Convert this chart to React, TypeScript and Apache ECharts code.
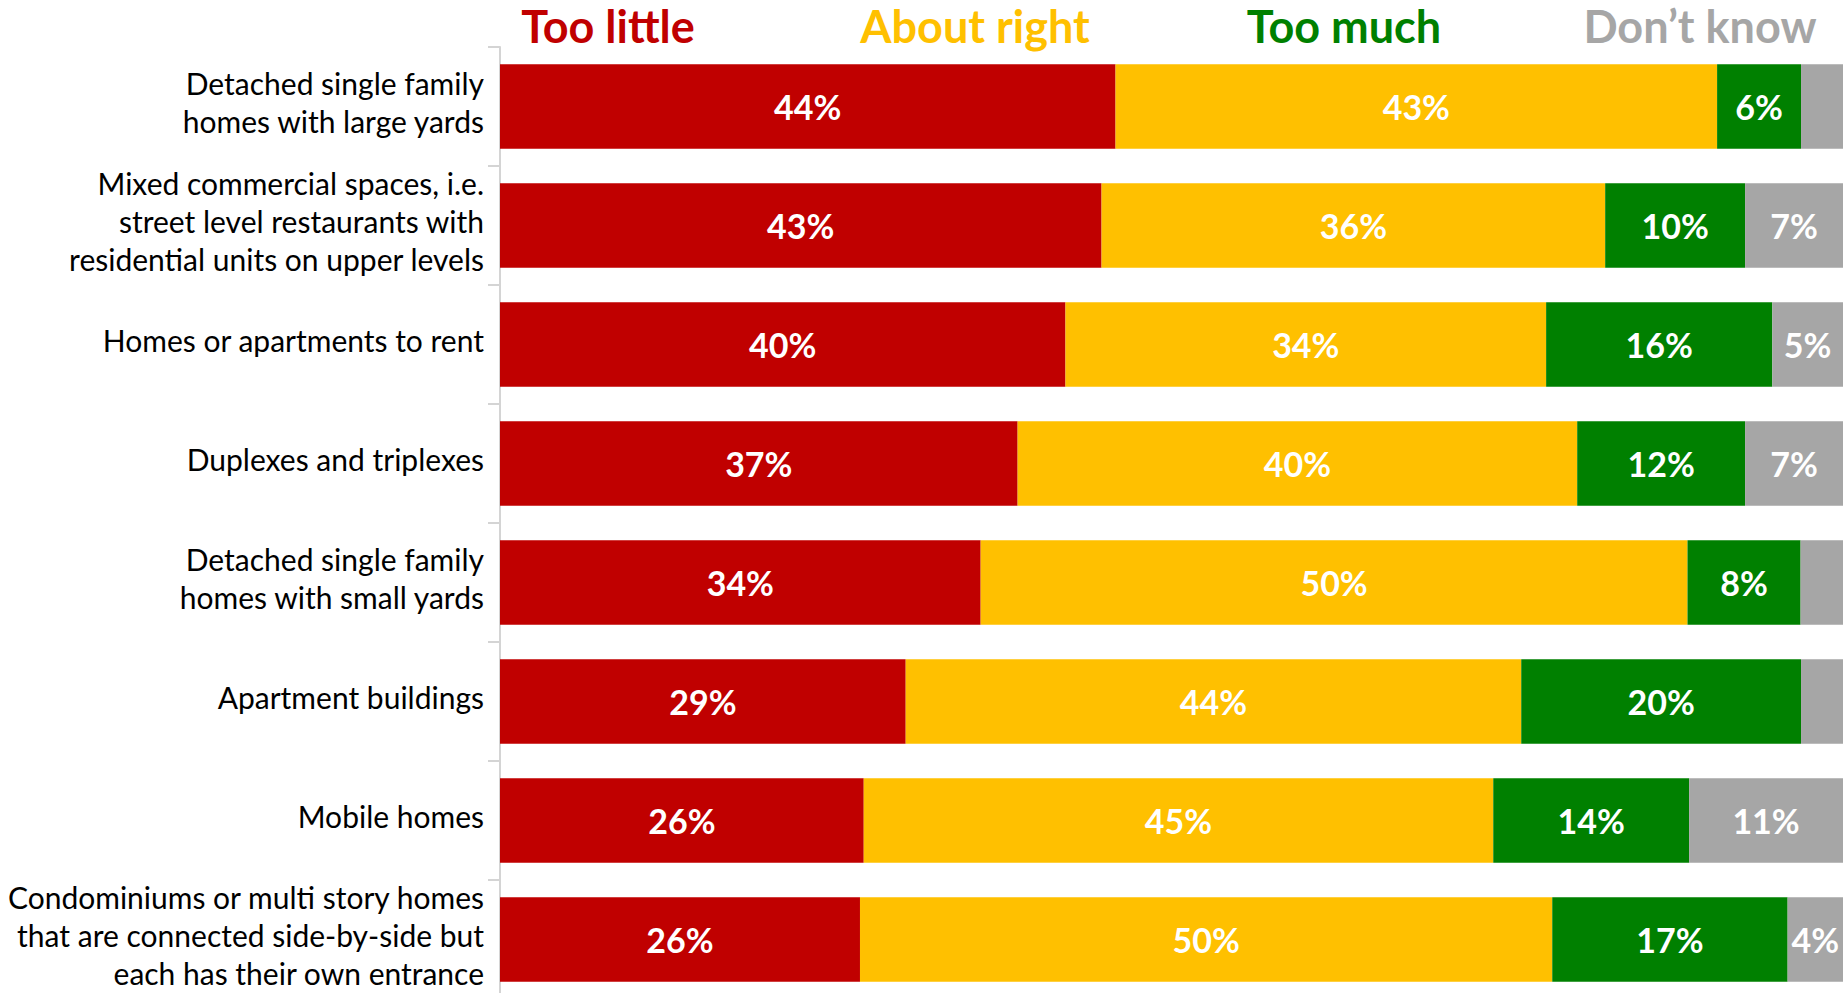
import React, { useEffect, useRef } from "react";
import * as echarts from "echarts";

const categories = [
  "Detached single family\nhomes with large yards",
  "Mixed commercial spaces, i.e.\nstreet level restaurants with\nresidential units on upper levels",
  "Homes or apartments to rent",
  "Duplexes and triplexes",
  "Detached single family\nhomes with small yards",
  "Apartment buildings",
  "Mobile homes",
  "Condominiums or multi story homes\nthat are connected side-by-side but\neach has their own entrance",
];
const seriesNames = ["Too little", "About right", "Too much", "Don’t know"];
const seriesColors = ["#C00000", "#FFC000", "#008000", "#A6A6A6"];
const tooLittle = [44, 43, 40, 37, 34, 29, 26, 26];
const aboutRight = [43, 36, 34, 40, 50, 44, 45, 50];
const tooMuch = [6, 10, 16, 12, 8, 20, 14, 17];
const dontKnow = [3, 7, 5, 7, 3, 3, 11, 4];
const headerX = [608, 975, 1344, 1700];

const FONT = "Lato, 'Open Sans', sans-serif";

export default function App() {
  const ref = useRef<HTMLDivElement>(null);
  useEffect(() => {
    if (!ref.current) return;
    const chart = echarts.init(ref.current, null, { renderer: "svg" });
    const raw = [tooLittle, aboutRight, tooMuch, dontKnow];
    const totals = categories.map((_, i) => raw.reduce((s, arr) => s + arr[i], 0));
    const series = raw.map((arr, si) => ({
      name: seriesNames[si],
      type: "bar",
      stack: "total",
      barCategoryGap: "29%",
      itemStyle: { color: seriesColors[si] },
      label: {
        show: true,
        position: "inside",
        color: "#FFFFFF",
        fontWeight: "bold",
        fontSize: 34,
        fontFamily: FONT,
        formatter: (p: any) => {
          const v = raw[p.seriesIndex][p.dataIndex];
          return v >= 4 ? v + "%" : "";
        },
      },
      data: arr.map((v, i) => (v / totals[i]) * 100),
    }));
    chart.setOption({
      animation: false,
      backgroundColor: "#FFFFFF",
      grid: {
        left: 500,
        right: 4,
        top: 47,
        height: 952,
        containLabel: false,
        outerBoundsMode: "none",
      },
      xAxis: { type: "value", min: 0, max: 100, show: false },
      yAxis: {
        type: "category",
        inverse: true,
        data: categories,
        axisLine: { show: true, lineStyle: { color: "#D4D4D4", width: 2 } },
        axisTick: { show: true, length: 12, lineStyle: { color: "#D4D4D4", width: 2 } },
        axisLabel: {
          margin: 16,
          color: "#000000",
          fontSize: 30,
          lineHeight: 38,
          fontFamily: FONT,
          align: "right",
          formatter: (v: string) =>
            v
              .split("\n")
              .map((l) => `{a|${l}}`)
              .join("\n"),
          rich: {
            a: {
              color: "#000000",
              fontSize: 30,
              lineHeight: 38,
              fontFamily: FONT,
              align: "right",
            },
          },
          padding: [0, 0, 10, 0],
        },
        splitLine: { show: false },
      },
      graphic: seriesNames.map((n, i) => ({
        type: "text",
        x: headerX[i],
        y: 26,
        style: {
          text: n,
          fill: seriesColors[i],
          font: `bold 45px ${FONT}`,
          textAlign: "center",
          textVerticalAlign: "middle",
        },
      })),
      series,
    });
    return () => chart.dispose();
  }, []);
  return (
    <div
      ref={ref}
      style={{ position: "fixed", left: 0, top: 0, width: 1847, height: 993 }}
    />
  );
}
